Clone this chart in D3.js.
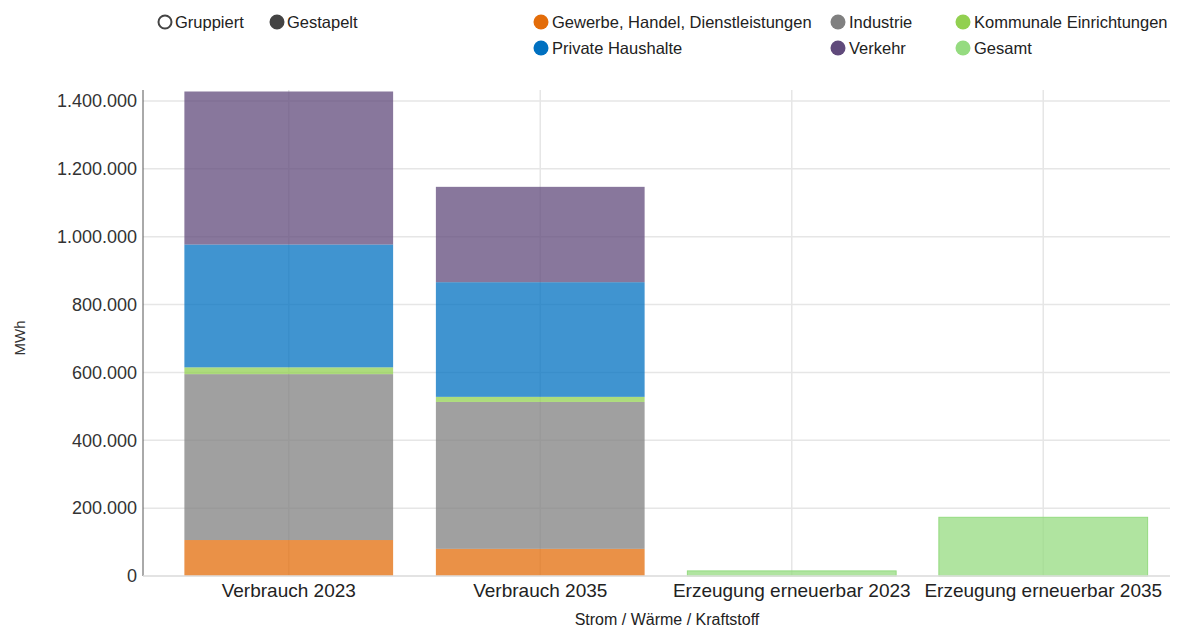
<!DOCTYPE html>
<html>
<head>
<meta charset="utf-8">
<script src="https://cdn.jsdelivr.net/npm/d3@7"></script>
<style>
  body { margin: 0; background: #fff; }
  text { font-family: "Liberation Sans", Arial, sans-serif; }
</style>
</head>
<body>
<div class="chart"></div>
<script>
// categories and series (MWh)
var categories = ["Verbrauch 2023", "Verbrauch 2035", "Erzeugung erneuerbar 2023", "Erzeugung erneuerbar 2035"];
var seriesNames = ["Gewerbe, Handel, Dienstleistungen", "Industrie", "Kommunale Einrichtungen", "Private Haushalte", "Verkehr", "Gesamt"];
var gewerbe   = [106000, 80000, 0, 0];
var industrie = [489000, 433000, 0, 0];
var kommunal  = [20000, 15000, 0, 0];
var privat    = [362000, 338000, 0, 0];
var verkehr   = [451000, 281000, 0, 0];
var gesamt    = [0, 0, 15000, 173000];
var yTicks = [0, 200000, 400000, 600000, 800000, 1000000, 1200000, 1400000];
var colors = ["#e36c09", "#808080", "#92d050", "#0070c0", "#604a7b", "#95db80"];

var width = 1184, height = 628;

var svg = d3.select(".chart").append("svg")
    .attr("width", width)
    .attr("height", height);

var rows = categories.map(function(c, i) {
  return {cat: c, s0: gewerbe[i], s1: industrie[i], s2: kommunal[i], s3: privat[i], s4: verkehr[i], s5: gesamt[i]};
});
var stacked = d3.stack().keys(["s0","s1","s2","s3","s4","s5"])(rows);

var x = d3.scaleBand()
    .domain(categories)
    .range([163, 1169])
    .paddingInner(0.17)
    .paddingOuter(0.085);

var y = d3.scaleLinear()
    .domain([0, 1400000])
    .range([576, 101]);

var fmt = d3.formatLocale({decimal: ",", thousands: ".", grouping: [3], currency: ["", "€"]}).format(",");

// grid
svg.append("g").selectAll("line")
  .data(yTicks).enter().append("line")
    .attr("x1", 143).attr("x2", 1170)
    .attr("y1", function(d){ return y(d); }).attr("y2", function(d){ return y(d); })
    .attr("stroke", "#e6e6e6").attr("stroke-width", 1.5);

svg.append("g").selectAll("line")
  .data(categories).enter().append("line")
    .attr("x1", function(d){ return x(d) + x.bandwidth()/2; })
    .attr("x2", function(d){ return x(d) + x.bandwidth()/2; })
    .attr("y1", 90).attr("y2", 576)
    .attr("stroke", "#e6e6e6").attr("stroke-width", 1.5);

// bars
svg.append("g").selectAll("g")
  .data(stacked).enter().append("g")
    .attr("fill", function(d, i){ return colors[i]; })
    .attr("fill-opacity", 0.75)
    .attr("stroke", function(d, i){ return i == 5 ? colors[i] : "none"; })
    .attr("stroke-width", 1)
  .selectAll("rect")
  .data(function(d){ return d; }).enter().append("rect")
    .attr("x", function(d){ return x(d.data.cat); })
    .attr("width", x.bandwidth())
    .attr("y", function(d){ return y(d[1]); })
    .attr("height", function(d){ return y(d[0]) - y(d[1]); });

// y axis
var yAxis = svg.append("g")
    .attr("transform", "translate(143,0)")
    .call(d3.axisLeft(y).tickValues(yTicks).tickFormat(fmt).tickSize(0).tickPadding(6));
yAxis.select(".domain").attr("stroke", "#555").attr("d", "M0,90V576");
yAxis.selectAll("text").attr("font-size", 18).attr("fill", "#333")
    .style("font-family", "'Liberation Sans', Arial, sans-serif");

// x axis
var xAxis = svg.append("g")
    .attr("transform", "translate(0,576)")
    .call(d3.axisBottom(x).tickSize(0).tickPadding(8));
xAxis.select(".domain").attr("stroke", "#e0e0e0").attr("stroke-width", 1.5).attr("d", "M143,0H1170");
xAxis.selectAll("text").attr("font-size", 19).attr("fill", "#222")
    .style("font-family", "'Liberation Sans', Arial, sans-serif");

// axis titles
svg.append("text")
    .attr("transform", "translate(25,338) rotate(-90)")
    .attr("text-anchor", "middle")
    .attr("font-size", 15).attr("fill", "#333")
    .text("MWh");

svg.append("text")
    .attr("x", 667).attr("y", 625)
    .attr("text-anchor", "middle")
    .attr("font-size", 16).attr("fill", "#222")
    .text("Strom / Wärme / Kraftstoff");

// mode switch
var modes = [{label: "Gruppiert", x: 165, filled: false}, {label: "Gestapelt", x: 277, filled: true}];
var mg = svg.append("g").selectAll("g").data(modes).enter().append("g")
    .attr("transform", function(d){ return "translate(" + d.x + ",22)"; });
mg.append("circle").attr("r", 6.5)
    .attr("fill", function(d){ return d.filled ? "#444" : "#fff"; })
    .attr("stroke", "#444").attr("stroke-width", 2);
mg.append("text").attr("x", 10).attr("dy", "0.35em")
    .attr("font-size", 16.5).attr("fill", "#222")
    .text(function(d){ return d.label; });

// legend
var legX = [541, 838, 963, 541, 838, 963];
var legY = [22, 22, 22, 48, 48, 48];
var legOrder = [0, 1, 2, 3, 4, 5];
var lg = svg.append("g").selectAll("g").data(legOrder).enter().append("g")
    .attr("transform", function(d, i){ return "translate(" + legX[i] + "," + legY[i] + ")"; });
lg.append("circle").attr("r", 7.5)
    .attr("fill", function(d){ return colors[d]; });
lg.append("text").attr("x", 11).attr("dy", "0.35em")
    .attr("font-size", 16.5).attr("fill", "#222")
    .text(function(d){ return seriesNames[d]; });
</script>
</body>
</html>
